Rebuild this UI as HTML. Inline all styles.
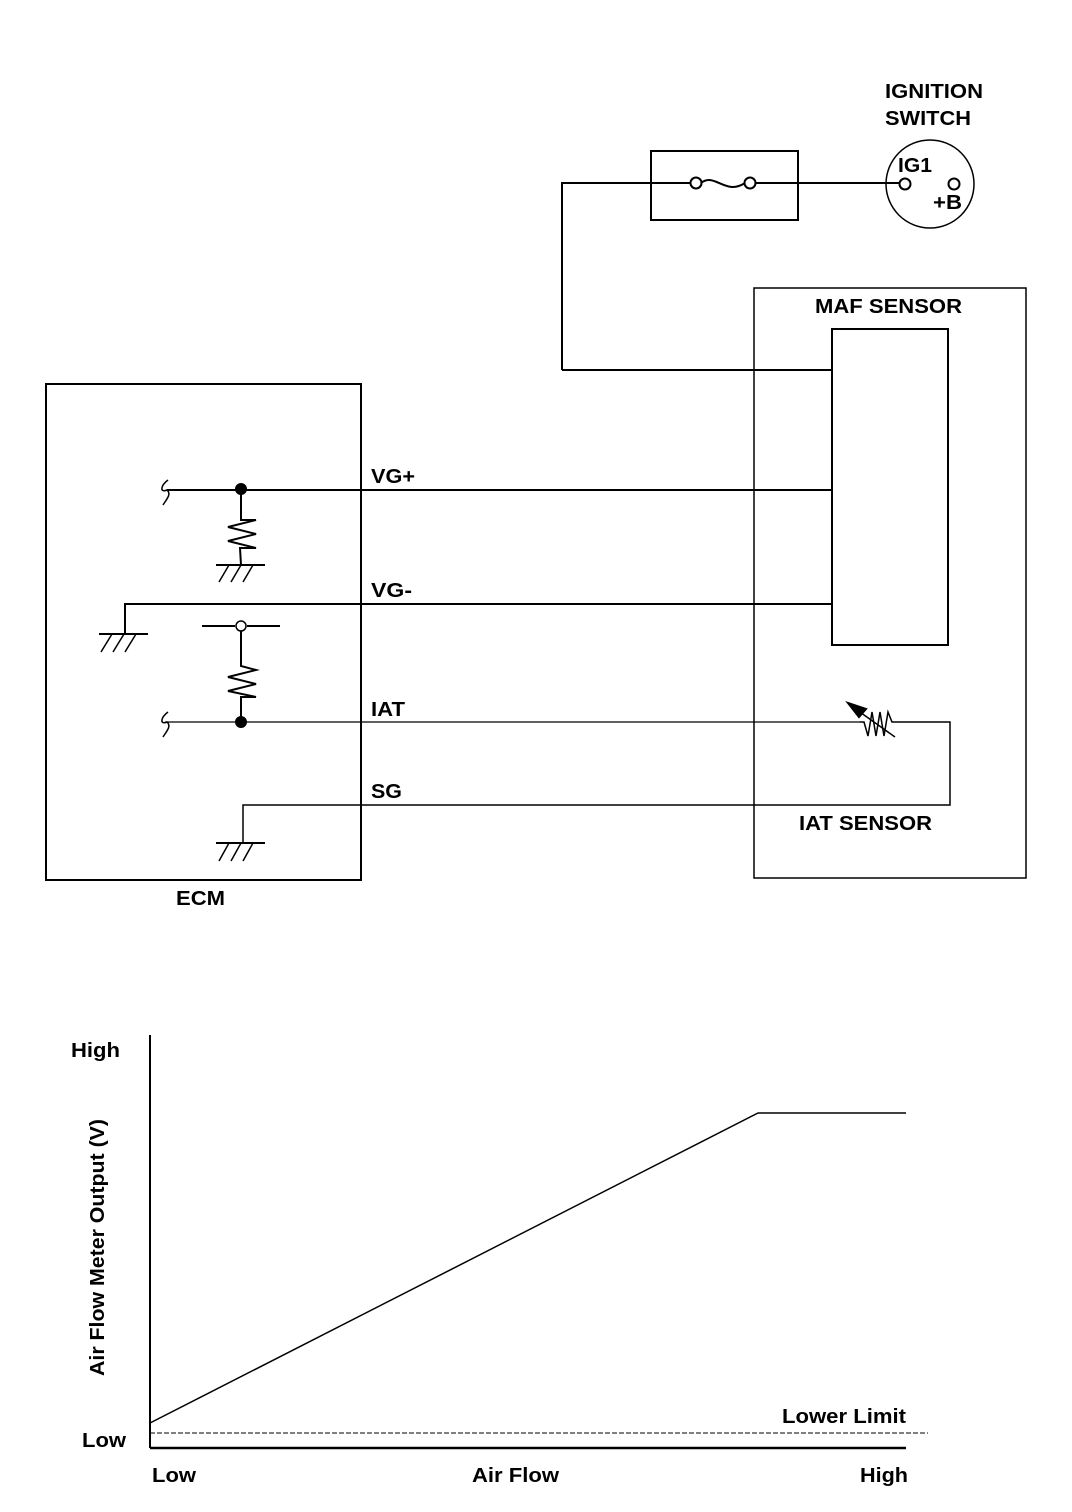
<!DOCTYPE html>
<html><head><meta charset="utf-8"><style>
html,body{margin:0;padding:0;background:#fff;}
svg{display:block;}
text{font-family:"Liberation Sans",sans-serif;font-weight:bold;fill:#000;}
</style></head><body>
<svg width="1072" height="1512" viewBox="0 0 1072 1512" xmlns="http://www.w3.org/2000/svg">
<g fill="none" stroke="#000" stroke-width="2">
<rect x="46" y="384" width="315" height="496"/>
<rect x="754" y="288" width="272" height="590" stroke-width="1.5"/>
<rect x="832" y="329" width="116" height="316"/>
<rect x="651" y="151" width="147" height="69"/>
<circle cx="930" cy="184" r="44" stroke-width="1.5"/>
<circle cx="905" cy="184" r="5.5"/>
<circle cx="954" cy="184" r="5.5"/>
<polyline points="562,370 562,183 691,183"/>
<circle cx="696" cy="183" r="5.5"/>
<circle cx="750" cy="183" r="5.5"/>
<path d="M701,183 C715,172 725,196 745,183"/>
<line x1="755" y1="183" x2="899" y2="183"/>
<line x1="562" y1="370" x2="832" y2="370"/>
<line x1="167" y1="490" x2="832" y2="490"/>
<path d="M168,480 C160,486 160,493 167,490 C172,494 166,500 163,505" stroke-width="1.5"/>
<circle cx="241" cy="489" r="5" fill="#000"/>
<polyline points="241,489 241,520 256,520 228,527 256,534 228,541 256,548 240,548 241,565" stroke-width="2"/>
<line x1="216" y1="565" x2="265" y2="565"/>
<path d="M219,582 L229,565 M231,582 L241,565 M243,582 L253,565" stroke-width="1.5"/>
<polyline points="125,634 125,604 832,604"/>
<line x1="99" y1="634" x2="148" y2="634"/>
<path d="M101,652 L112,634 M113,652 L124,634 M125,652 L136,634" stroke-width="1.5"/>
<line x1="202" y1="626" x2="235" y2="626"/>
<line x1="247" y1="626" x2="280" y2="626"/>
<circle cx="241" cy="626" r="5" stroke-width="1.5"/>
<polyline points="241,631 241,666 256,670 228,677 256,684 228,691 256,697 241,697 241,722" stroke-width="2"/>
<line x1="165" y1="722" x2="860" y2="722" stroke-width="1.2"/>
<path d="M168,712 C160,718 160,725 167,722 C172,726 166,732 163,737" stroke-width="1.5"/>
<circle cx="241" cy="722" r="5" fill="#000"/>
<polyline points="860,722 864,722 868,736 872,712 876,736 880,712 884,736 888,712 892,722 950,722 950,805 243,805 243,843" stroke-width="1.5"/>
<line x1="850" y1="705" x2="895" y2="737" stroke-width="1.5"/>
<polygon points="848,703 866,709 859,717" fill="#000"/>
<line x1="216" y1="843" x2="265" y2="843"/>
<path d="M219,861 L229,843 M231,861 L241,843 M243,861 L253,843" stroke-width="1.5"/>
<line x1="150" y1="1035" x2="150" y2="1448"/>
<line x1="150" y1="1448" x2="906" y2="1448" stroke-width="2.5"/>
<polyline points="150,1423 758,1113 906,1113" stroke-width="1.5"/>
<line x1="150" y1="1433" x2="928" y2="1433" stroke-width="1" stroke-dasharray="5,2"/>
</g>
<g font-size="20" lengthAdjust="spacingAndGlyphs">
<text x="885" y="98" textLength="98" lengthAdjust="spacingAndGlyphs">IGNITION</text>
<text x="885" y="125" textLength="86" lengthAdjust="spacingAndGlyphs">SWITCH</text>
<text x="898" y="172" textLength="34" lengthAdjust="spacingAndGlyphs">IG1</text>
<text x="933" y="209" textLength="29" lengthAdjust="spacingAndGlyphs">+B</text>
<text x="815" y="313" textLength="147" lengthAdjust="spacingAndGlyphs">MAF SENSOR</text>
<text x="371" y="483" textLength="44" lengthAdjust="spacingAndGlyphs">VG+</text>
<text x="371" y="597" textLength="41" lengthAdjust="spacingAndGlyphs">VG-</text>
<text x="371" y="716" textLength="34" lengthAdjust="spacingAndGlyphs">IAT</text>
<text x="371" y="798" textLength="31" lengthAdjust="spacingAndGlyphs">SG</text>
<text x="799" y="830" textLength="133" lengthAdjust="spacingAndGlyphs">IAT SENSOR</text>
<text x="176" y="905" textLength="49" lengthAdjust="spacingAndGlyphs">ECM</text>
<text x="71" y="1057" textLength="49" lengthAdjust="spacingAndGlyphs">High</text>
<text x="82" y="1447" textLength="44" lengthAdjust="spacingAndGlyphs">Low</text>
<text x="152" y="1482" textLength="44" lengthAdjust="spacingAndGlyphs">Low</text>
<text x="472" y="1482" textLength="87" lengthAdjust="spacingAndGlyphs">Air Flow</text>
<text x="860" y="1482" textLength="48" lengthAdjust="spacingAndGlyphs">High</text>
<text x="782" y="1423" textLength="124" lengthAdjust="spacingAndGlyphs">Lower Limit</text>
<text x="-128" y="0" transform="translate(104,1248) rotate(-90)" textLength="257" lengthAdjust="spacingAndGlyphs">Air Flow Meter Output (V)</text>
</g>
</svg>
</body></html>
